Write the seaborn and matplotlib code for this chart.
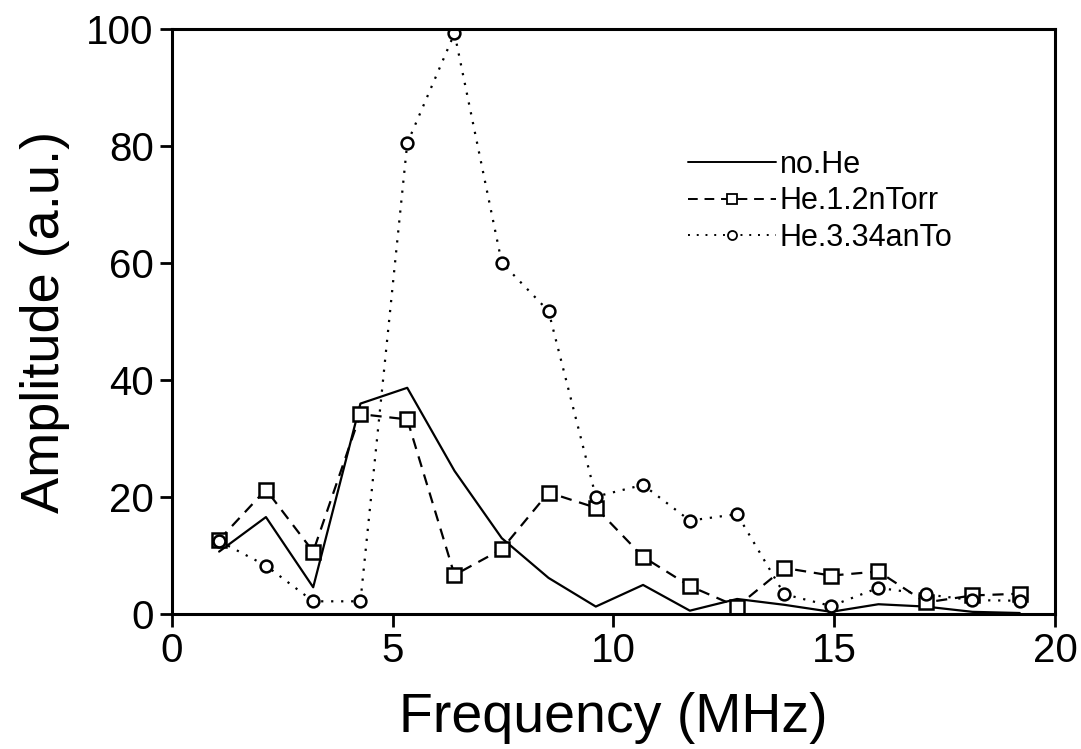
import numpy as np
import pandas as pd

import matplotlib
matplotlib.use("Agg")
import matplotlib.pyplot as plt
import seaborn as sns

# frequency bins (MHz), 18 points spaced 16/15 MHz apart
freq = [1.07, 2.13, 3.20, 4.27, 5.33, 6.40, 7.47, 8.53, 9.60,
        10.67, 11.73, 12.80, 13.87, 14.93, 16.00, 17.07, 18.13, 19.20]

no_he = [10.7, 16.6, 4.6, 36.0, 38.7, 24.5, 13.0, 6.2, 1.3,
         5.0, 0.6, 2.6, 1.6, 0.4, 1.7, 1.3, 0.4, 0.2]
he_12 = [12.7, 21.3, 10.7, 34.2, 33.3, 6.7, 11.1, 20.8, 18.2,
         9.8, 4.8, 1.3, 7.9, 6.6, 7.3, 2.0, 3.2, 3.5]
he_334 = [12.5, 8.3, 2.2, 2.2, 80.5, 99.3, 60.1, 51.8, 20.1,
          22.1, 16.0, 17.1, 3.4, 1.4, 4.5, 3.4, 2.4, 2.3]

labels = ["no.He", "He.1.2nTorr", "He.3.34anTo"]

sns.set_style("ticks")
plt.rcParams["font.family"] = ["Liberation Sans", "DejaVu Sans"]
plt.rcParams["text.color"] = "black"
plt.rcParams["axes.labelcolor"] = "black"

fig = plt.figure(figsize=(10.81, 7.49), dpi=100)
ax = fig.add_axes([0.159, 0.180, 0.817, 0.781])

df = pd.DataFrame({"freq": freq, "no_he": no_he, "he_12": he_12, "he_334": he_334})

sns.lineplot(x="freq", y="no_he", data=df, ax=ax, color="black",
             linewidth=1.6, linestyle="-", label=labels[0])
sns.lineplot(x="freq", y="he_12", data=df, ax=ax, color="black",
             linewidth=1.6, linestyle=(0, (5, 3.5)), marker="s", markersize=10,
             markerfacecolor="white", markeredgecolor="black", markeredgewidth=1.8,
             label=labels[1])
sns.lineplot(x="freq", y="he_334", data=df, ax=ax, color="black",
             linewidth=1.6, linestyle=(0, (1, 3.5)), marker="o", markersize=8.5,
             markerfacecolor="white", markeredgecolor="black", markeredgewidth=1.8,
             label=labels[2])

ax.set_xlim(0, 20)
ax.set_ylim(0, 100)
ax.set_xticks([0, 5, 10, 15, 20])
ax.set_yticks([0, 20, 40, 60, 80, 100])
ax.tick_params(axis="both", direction="out", length=9, width=2,
               labelsize=29, pad=4, colors="black")
for side in ["left", "bottom", "top", "right"]:
    ax.spines[side].set_linewidth(2.2)
    ax.spines[side].set_color("black")

ax.set_xlabel("Frequency (MHz)", fontsize=40, labelpad=16)
ax.set_ylabel("Amplitude (a.u.)", fontsize=39, labelpad=12)

leg = ax.legend(loc="upper left", bbox_to_anchor=(0.57, 0.815), frameon=False,
                fontsize=22, handlelength=2.9, handletextpad=0.12,
                labelspacing=0.22, borderaxespad=0)
for h in leg.legend_handles:
    h.set_markersize(6.5)
    h.set_markeredgewidth(1.3)
    h.set_linewidth(1.4)

fig.savefig("out.png", dpi=100)
